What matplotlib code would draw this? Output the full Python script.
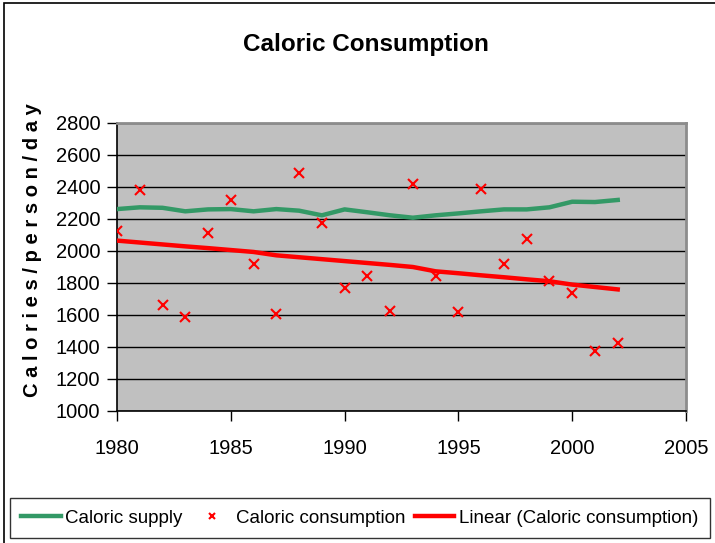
import matplotlib.pyplot as plt
from matplotlib.patches import Rectangle

plt.rcParams['font.family'] = ['Liberation Sans', 'DejaVu Sans']

years = list(range(1980, 2003))
supply = [2262, 2273, 2270, 2248, 2260, 2262, 2248, 2262, 2252, 2223, 2260, 2242,
          2223, 2208, 2223, 2235, 2248, 2260, 2260, 2273, 2308, 2306, 2319]
consumption = [2125, 2381, 1665, 1590, 2112, 2319, 1919, 1604, 2490, 2173, 1771, 1846,
               1627, 2417, 1846, 1617, 2390, 1919, 2077, 1811, 1735, 1375, 1423]
trend = [2065, 2053, 2041, 2029, 2018, 2006, 1994, 1973, 1961, 1949, 1937, 1925,
         1913, 1900, 1873, 1861, 1848, 1836, 1823, 1811, 1790, 1775, 1760]

fig = plt.figure(figsize=(7.15, 5.43), dpi=100)
ax = fig.add_axes([117 / 715, 132 / 543, 569 / 715, 288 / 543])
ax.set_facecolor('#C0C0C0')

l1, = ax.plot(years, supply, color='#339966', lw=3.2, zorder=3, label='Caloric supply')
l2, = ax.plot(years, consumption, ls='none', marker='x', ms=7, mew=1.5, color='red',
              zorder=4, label='Caloric consumption')
l3, = ax.plot(years, trend, color='red', lw=3.2, zorder=3,
              label='Linear (Caloric consumption)')

ax.set_xlim(1980, 2005)
ax.set_ylim(1000, 2800)
ax.set_xticks(range(1980, 2006, 5))
ax.set_yticks(range(1000, 2801, 200))
ax.yaxis.grid(True, color='black', lw=1)
ax.set_axisbelow(True)
ax.tick_params(axis='both', direction='out', length=7, width=1, labelsize=14.5, color='black')
ax.tick_params(axis='x', pad=13)
ax.tick_params(axis='y', pad=5)
for s in ['left', 'bottom']:
    ax.spines[s].set_color('black')
    ax.spines[s].set_linewidth(1.2)
for s in ['top', 'right']:
    ax.spines[s].set_color('#8c8c8c')
    ax.spines[s].set_linewidth(2)

ax.set_ylabel('C a l o r i e s / p e r s o n / d a y', fontsize=14.5, fontweight='bold')
ax.yaxis.set_label_coords(-0.132, 0.559)
fig.text(366 / 715, 1 - 45 / 543, 'Caloric Consumption', ha='center', va='center',
         fontsize=17.5, fontweight='bold')

leg = fig.legend(handles=[l1, l2, l3], loc='lower left', ncol=3,
                 bbox_to_anchor=(10 / 715, 5 / 543),
                 fontsize=13.5, frameon=True, fancybox=False, edgecolor='black',
                 handlelength=2.1, handletextpad=0.25, columnspacing=0.5,
                 borderpad=0.6, borderaxespad=0, markerscale=0.7)
leg.get_frame().set_linewidth(1)

# outer chart frame
fig.patches.append(Rectangle((4 / 715, -0.05), 1.2, 1 - 3 / 543 + 0.05,
                             transform=fig.transFigure, fill=False, lw=1.2,
                             edgecolor='black'))

fig.savefig('out.png', dpi=100)
